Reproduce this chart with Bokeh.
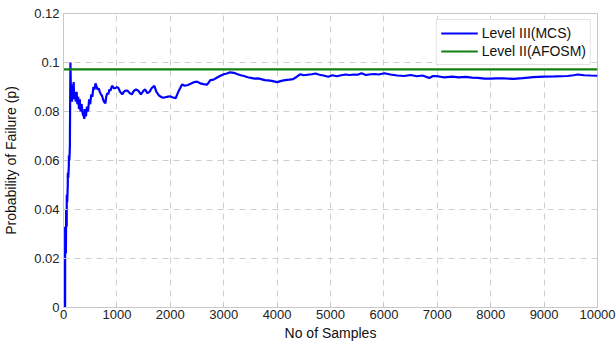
from bokeh.plotting import figure
from bokeh.models import Range1d, FixedTicker, Legend, LegendItem
from bokeh.embed import file_html
from bokeh.resources import INLINE

# Monte Carlo running estimate (Level III, MCS)
n_samples = [1, 15, 30, 31, 45, 50, 60, 61, 70, 80, 81, 90, 100, 101, 110, 120, 121, 125, 130, 135, 140,
             150, 160, 170, 180, 190, 200, 215, 230, 245, 260, 275, 290, 305, 320, 340, 360, 380, 390,
             400, 420, 440, 460, 480, 500, 520, 540, 560, 580, 600, 620, 640, 660, 680, 700, 720, 740,
             760, 785, 800, 820, 840, 860, 880, 900, 915, 940, 970, 1000, 1030, 1060, 1100, 1130, 1160,
             1200, 1240, 1280, 1320, 1360, 1400, 1450, 1500, 1530, 1570, 1610, 1650, 1700, 1740, 1790,
             1840, 1890, 1940, 1990, 2040, 2100, 2130, 2160, 2220, 2270, 2330, 2400, 2450, 2500, 2560,
             2620, 2690, 2750, 2810, 2870, 2930, 3000, 3060, 3120, 3190, 3260, 3320, 3380, 3450, 3510,
             3580, 3640, 3700, 3770, 3830, 3900, 4000, 4080, 4150, 4230, 4300, 4370, 4430, 4500, 4570,
             4650, 4720, 4790, 4870, 4960, 5030, 5120, 5200, 5280, 5360, 5440, 5510, 5580, 5660, 5760,
             5830, 5900, 6010, 6120, 6250, 6380, 6500, 6620, 6720, 6790, 6850, 6920, 7030, 7130, 7280,
             7400, 7530, 7650, 7760, 7880, 8000, 8100, 8250, 8430, 8600, 8800, 9000, 9200, 9440, 9550,
             9630, 9750, 9870, 10000]
pf_mcs = [0, 0, 0, 0.033, 0.022, 0.040, 0.033, 0.046, 0.043, 0.050, 0.055, 0.053, 0.058, 0.062, 0.060,
          0.066, 0.072, 0.085, 0.100, 0.093, 0.085,
          0.091, 0.084, 0.089, 0.087, 0.092, 0.085, 0.088, 0.084, 0.088, 0.083, 0.086, 0.081, 0.085,
          0.080, 0.083, 0.079, 0.078, 0.077,
          0.081, 0.078, 0.082, 0.080, 0.085, 0.083, 0.087, 0.086, 0.090, 0.089, 0.0915, 0.090, 0.089,
          0.0895, 0.088, 0.087, 0.0865, 0.085,
          0.084, 0.0833, 0.086, 0.0875, 0.087, 0.089, 0.0885, 0.090, 0.0905, 0.0895, 0.0895, 0.090,
          0.0895, 0.088, 0.087, 0.088, 0.0885,
          0.0885, 0.0875, 0.087, 0.0885, 0.089, 0.0885, 0.087, 0.0885, 0.089, 0.0875, 0.088, 0.0895,
          0.0905, 0.088, 0.0865,
          0.0858, 0.0857, 0.086, 0.0862, 0.0858, 0.0854, 0.087, 0.0885, 0.091, 0.0905, 0.0908, 0.0915,
          0.092, 0.0922, 0.0915,
          0.0912, 0.091, 0.0928, 0.093, 0.0938, 0.0945, 0.0952, 0.0955, 0.096, 0.0958, 0.0952, 0.0948,
          0.0945, 0.094, 0.0937,
          0.0934, 0.0935, 0.0932, 0.0928, 0.0927, 0.0925, 0.092, 0.0925, 0.0928, 0.093, 0.0932, 0.0942,
          0.0952, 0.0948, 0.0950,
          0.0952, 0.0955, 0.0950, 0.0947, 0.0942, 0.0948, 0.0944, 0.0948, 0.0951, 0.0949, 0.0951,
          0.0950, 0.0956, 0.0949, 0.0952,
          0.0953, 0.0951, 0.0956, 0.0951, 0.0947, 0.0945, 0.0949, 0.0944, 0.0947, 0.0942, 0.0937,
          0.0945, 0.0943, 0.0939, 0.0942,
          0.0939, 0.0941, 0.0938, 0.0937, 0.0934, 0.0934, 0.0935, 0.0935, 0.0933, 0.0936, 0.0940,
          0.0942, 0.0943, 0.0945, 0.0948,
          0.0951, 0.0948, 0.0947, 0.0946]

# Level II (AFOSM) estimate
pf_afosm = 0.0972
afosm_x = [0, 10000]
afosm_y = [pf_afosm, pf_afosm]

x_ticks = [0, 1000, 2000, 3000, 4000, 5000, 6000, 7000, 8000, 9000, 10000]
y_ticks = [0, 0.02, 0.04, 0.06, 0.08, 0.1, 0.12]
y_tick_labels = {0: "0", 0.02: "0.02", 0.04: "0.04", 0.06: "0.06", 0.08: "0.08", 0.1: "0.1", 0.12: "0.12"}

FONT = "Liberation Sans"

p = figure(width=616, height=348, output_backend="svg", toolbar_location=None,
           x_range=Range1d(0, 10000), y_range=Range1d(0, 0.12),
           min_border_left=61, min_border_right=19, min_border_top=13, min_border_bottom=41)
p.background_fill_color = "white"
p.border_fill_color = "white"
p.outline_line_color = "#c8c8c8"
p.outline_line_width = 1

r_mcs = p.line(n_samples, pf_mcs, line_color="#0000ff", line_width=2.2)
r_afosm = p.line(afosm_x, afosm_y, line_color="#108010", line_width=2.2)

for ax in (p.xaxis[0], p.yaxis[0]):
    ax.axis_line_color = "#c8c8c8"
    ax.major_tick_line_color = "#c8c8c8"
    ax.major_tick_in = 4
    ax.major_tick_out = 0
    ax.minor_tick_line_color = None
    ax.major_label_text_font = FONT
    ax.major_label_text_font_size = "13px"
    ax.major_label_text_color = "#222222"
    ax.axis_label_text_font = FONT
    ax.axis_label_text_font_size = "14px"
    ax.axis_label_text_font_style = "normal"
    ax.axis_label_text_color = "#111111"

p.xaxis[0].ticker = FixedTicker(ticks=x_ticks)
p.yaxis[0].ticker = FixedTicker(ticks=y_ticks)
p.yaxis[0].major_label_overrides = y_tick_labels
p.xaxis[0].axis_label = "No of Samples"
p.yaxis[0].axis_label = "Probability of Failure (p)"
p.xaxis[0].major_label_standoff = 2
p.xaxis[0].axis_label_standoff = 3
p.yaxis[0].major_label_standoff = 4
p.yaxis[0].axis_label_standoff = 12

p.xgrid.ticker = FixedTicker(ticks=x_ticks)
p.ygrid.ticker = FixedTicker(ticks=y_ticks)
for g in (p.xgrid[0], p.ygrid[0]):
    g.grid_line_color = "#cfcfcf"
    g.grid_line_dash = "6 5"
    g.grid_line_width = 1

legend = Legend(items=[LegendItem(label="Level III(MCS)", renderers=[r_mcs]),
                       LegendItem(label="Level II(AFOSM)", renderers=[r_afosm])],
                location="top_right")
legend.label_text_font = FONT
legend.label_text_font_size = "14px"
legend.label_text_color = "#111111"
legend.border_line_color = "#c8c8c8"
legend.border_line_width = 1
legend.background_fill_color = "white"
legend.background_fill_alpha = 1
legend.margin = 6
legend.padding = 4
legend.spacing = 0
legend.label_height = 18
legend.glyph_height = 18
legend.glyph_width = 37
legend.label_standoff = 4
p.add_layout(legend)

open("out.html", "w").write(file_html(p, INLINE))
